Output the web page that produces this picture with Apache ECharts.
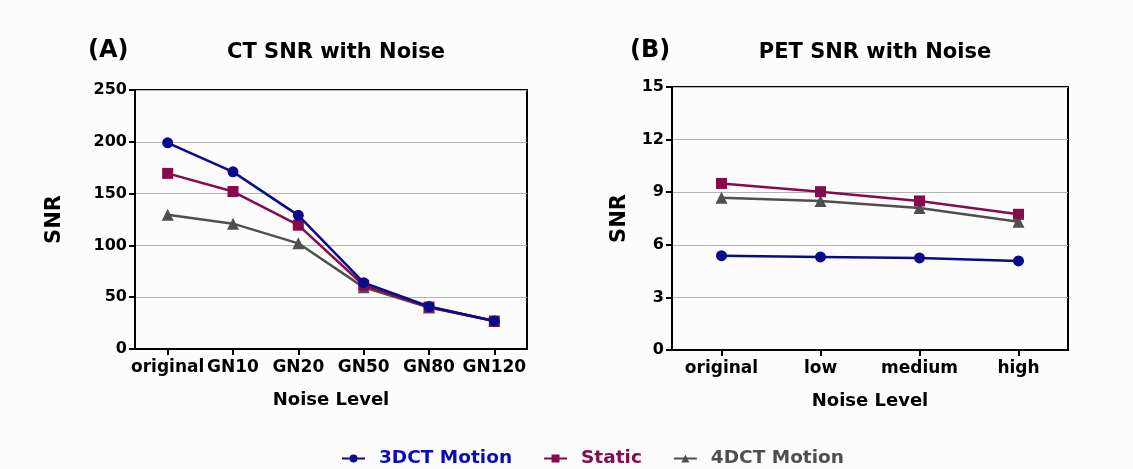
<!DOCTYPE html>
<html><head><meta charset="utf-8">
<script src="https://cdn.jsdelivr.net/npm/echarts@6/dist/echarts.min.js"></script>
<style>html,body{margin:0;padding:0;background:#fcfcfc}#c{width:1133px;height:469px}</style>
</head><body><div id="c"></div>
<script>
const ctCategories = ['original','GN10','GN20','GN50','GN80','GN120'];
const ct3DCT   = [199, 171, 129, 64, 41, 27];
const ctStatic = [169.5, 152, 119.5, 61.5, 40.5, 27];
const ct4DCT   = [129.5, 121, 102, 59.5, 40, 27];
const ctTicks = [0, 50, 100, 150, 200, 250];

const petCategories = ['original','low','medium','high'];
const pet3DCT   = [5.38, 5.31, 5.25, 5.08];
const petStatic = [9.5, 9.03, 8.5, 7.74];
const pet4DCT   = [8.68, 8.5, 8.1, 7.32];
const petTicks = [0, 3, 6, 9, 12, 15];

const seriesNames = ['3DCT Motion','Static','4DCT Motion'];
const colors = ['#0a0a8c','#860b4b','#4f4f4f'];
const legendTextColors = ['#0b0bb8','#860b4b','#4f4f4f'];
const symbols = ['circle','rect','triangle'];

const FONT = 'DejaVu Sans, sans-serif';
const chart = echarts.init(document.getElementById('c'));

function yAxis(gi, ticks, gap){
  return {
    type:'value', gridIndex:gi, min:ticks[0], max:ticks[ticks.length-1],
    interval:ticks[1]-ticks[0],
    name:'SNR', nameLocation:'middle', nameGap:gap, nameRotate:90,
    nameTextStyle:{fontFamily:FONT,fontWeight:'bold',fontSize:21,color:'#000'},
    axisLine:{show:true,lineStyle:{color:'#000',width:2}},
    axisTick:{show:true,length:6,lineStyle:{color:'#000',width:2}},
    axisLabel:{fontFamily:FONT,fontWeight:'bold',fontSize:16,color:'#000',margin:8},
    splitLine:{show:true,lineStyle:{color:'#b4b4b4',width:1}}
  };
}
function xAxis(gi, cats){
  return {
    type:'category', gridIndex:gi, data:cats, boundaryGap:true,
    name:'Noise Level', nameLocation:'middle', nameGap:42,
    nameTextStyle:{fontFamily:FONT,fontWeight:'bold',fontSize:18,color:'#000'},
    axisLine:{show:true,lineStyle:{color:'#000',width:2}},
    axisTick:{show:true,alignWithLabel:true,length:6,lineStyle:{color:'#000',width:2}},
    axisLabel:{interval:0,fontFamily:FONT,fontWeight:'bold',fontSize:17,color:'#000',margin:10}
  };
}
function mk(gi, idx, data){
  return {
    name:seriesNames[idx], type:'line', xAxisIndex:gi, yAxisIndex:gi, data:data,
    symbol:symbols[idx], symbolSize: idx===2?12:11,
    itemStyle:{color:colors[idx]}, lineStyle:{color:colors[idx],width:2.5},
    z: idx===0?5:(idx===1?4:3)
  };
}

chart.setOption({
  backgroundColor:'#fcfcfc',
  animation:false,
  title:[
    {text:'(A)',left:83,top:34,textStyle:{fontFamily:FONT,fontWeight:'bold',fontSize:24,color:'#000'}},
    {text:'CT SNR with Noise',left:331,textAlign:'center',top:37,textStyle:{fontFamily:FONT,fontWeight:'bold',fontSize:21,color:'#000'}},
    {text:'(B)',left:625,top:34,textStyle:{fontFamily:FONT,fontWeight:'bold',fontSize:24,color:'#000'}},
    {text:'PET SNR with Noise',left:870,textAlign:'center',top:37,textStyle:{fontFamily:FONT,fontWeight:'bold',fontSize:21,color:'#000'}}
  ],
  legend:{
    top:444, left:336, itemWidth:23, itemHeight:10, itemGap:31,
    data:seriesNames.map((n,i)=>({name:n,textStyle:{color:legendTextColors[i]}})),
    textStyle:{fontFamily:FONT,fontWeight:'bold',fontSize:18.5,padding:[0,0,0,9]}
  },
  grid:[
    {left:135,right:606,top:90,bottom:120,show:true,borderColor:'#000',borderWidth:2,backgroundColor:'transparent'},
    {left:672,right:65,top:87,bottom:119,show:true,borderColor:'#000',borderWidth:2,backgroundColor:'transparent'}
  ],
  xAxis:[xAxis(0,ctCategories), xAxis(1,petCategories)],
  yAxis:[yAxis(0,ctTicks,70), yAxis(1,petTicks,42)],
  series:[
    mk(0,0,ct3DCT), mk(0,1,ctStatic), mk(0,2,ct4DCT),
    mk(1,0,pet3DCT), mk(1,1,petStatic), mk(1,2,pet4DCT)
  ]
});
</script></body></html>
